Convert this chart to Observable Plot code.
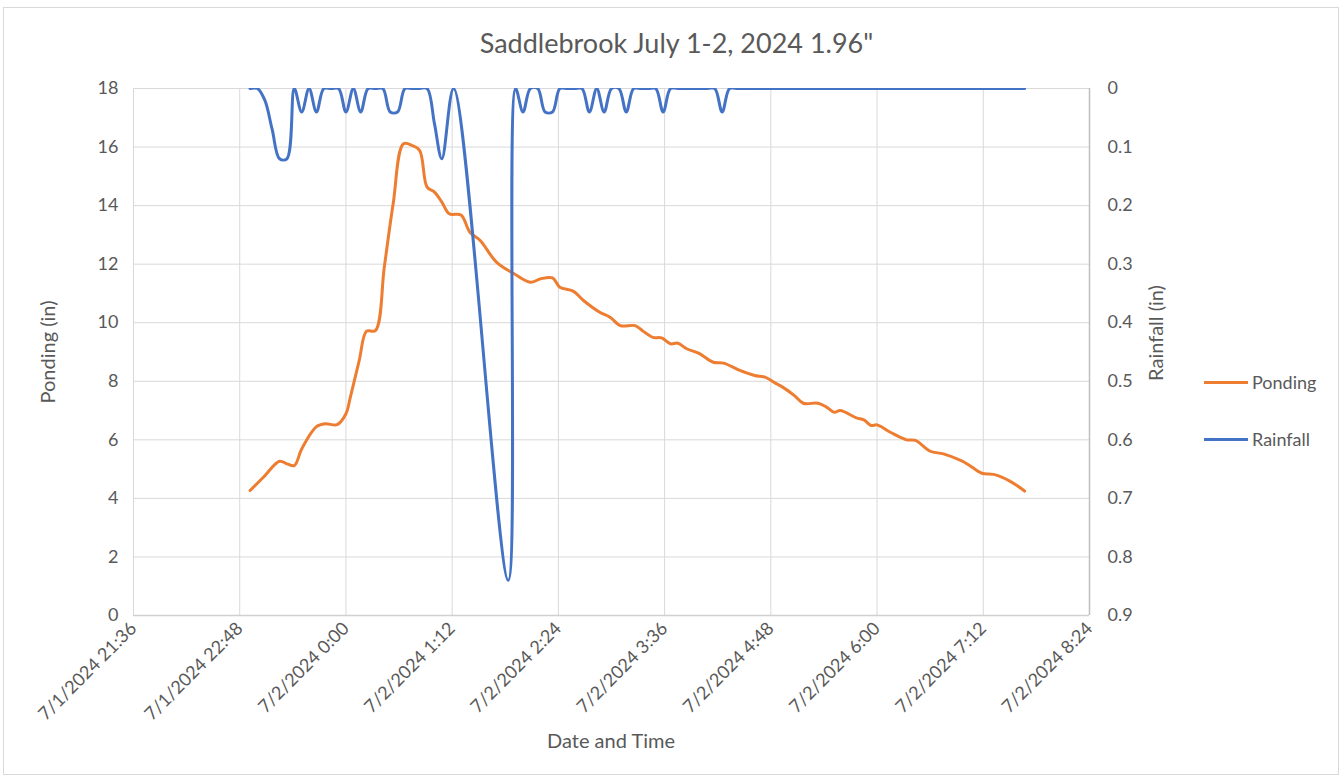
<!DOCTYPE html>
<html><head><meta charset="utf-8">
<script src="https://cdn.jsdelivr.net/npm/d3@7"></script>
<script src="https://cdn.jsdelivr.net/npm/@observablehq/plot@0.6"></script>
<style>
body{margin:0;background:#fff;font-family:Lato,"Open Sans",sans-serif;}
#wrap{position:relative;width:1343px;height:779px;overflow:hidden;background:#fff;}
#frame{position:absolute;left:3px;top:7px;width:1336px;height:768px;border:1px solid #d9d9d9;box-sizing:border-box;}
#chart{position:absolute;left:0;top:0;}
.txt{position:absolute;color:#595959;white-space:nowrap;}
#title{left:0;width:1353px;top:26px;text-align:center;font-size:27px;}
.leg{position:absolute;left:1204px;font-size:18px;color:#595959;display:flex;align-items:center;height:22px;}
.leg .sw{display:inline-block;width:44px;height:3px;margin-right:4px;}
</style></head><body>
<div id="wrap"><div id="frame"></div><div id="chart"></div></div>
<script>
// ---- data ----
const chartTitle = 'Saddlebrook July 1-2, 2024 1.96"';
const xAxisTitle = "Date and Time";
const yLeftTitle = "Ponding (in)";
const yRightTitle = "Rainfall (in)";
const seriesNames = ["Ponding", "Rainfall"];
const seriesColors = ["#ED7D31", "#4472C4"];

const xTickLabels = ["2024-07-01T21:36","2024-07-01T22:48","2024-07-02T00:00","2024-07-02T01:12","2024-07-02T02:24","2024-07-02T03:36","2024-07-02T04:48","2024-07-02T06:00","2024-07-02T07:12","2024-07-02T08:24"];
const pondingTicks = [0,2,4,6,8,10,12,14,16,18];
const rainfallTicks = [0,0.1,0.2,0.3,0.4,0.5,0.6,0.7,0.8,0.9];

const pondingTimes = ["2024-07-01T22:55","2024-07-01T23:04","2024-07-01T23:15","2024-07-01T23:20","2024-07-01T23:25","2024-07-01T23:30","2024-07-01T23:40","2024-07-01T23:46","2024-07-01T23:54","2024-07-02T00:00","2024-07-02T00:03","2024-07-02T00:09","2024-07-02T00:14","2024-07-02T00:20","2024-07-02T00:26","2024-07-02T00:32","2024-07-02T00:39","2024-07-02T00:45","2024-07-02T00:50","2024-07-02T00:55","2024-07-02T01:00","2024-07-02T01:05","2024-07-02T01:10","2024-07-02T01:18","2024-07-02T01:24","2024-07-02T01:31","2024-07-02T01:42","2024-07-02T01:54","2024-07-02T02:05","2024-07-02T02:12","2024-07-02T02:20","2024-07-02T02:25","2024-07-02T02:34","2024-07-02T02:41","2024-07-02T02:52","2024-07-02T02:59","2024-07-02T03:06","2024-07-02T03:16","2024-07-02T03:21","2024-07-02T03:28","2024-07-02T03:34","2024-07-02T03:40","2024-07-02T03:45","2024-07-02T03:51","2024-07-02T03:59","2024-07-02T04:09","2024-07-02T04:16","2024-07-02T04:27","2024-07-02T04:37","2024-07-02T04:44","2024-07-02T04:52","2024-07-02T04:56","2024-07-02T05:04","2024-07-02T05:10","2024-07-02T05:20","2024-07-02T05:26","2024-07-02T05:31","2024-07-02T05:35","2024-07-02T05:46","2024-07-02T05:51","2024-07-02T05:56","2024-07-02T06:00","2024-07-02T06:09","2024-07-02T06:20","2024-07-02T06:26","2024-07-02T06:36","2024-07-02T06:45","2024-07-02T06:57","2024-07-02T07:02","2024-07-02T07:11","2024-07-02T07:19","2024-07-02T07:30","2024-07-02T07:40"];
const pondingValues = [4.27,4.72,5.27,5.18,5.12,5.69,6.45,6.55,6.52,6.89,7.46,8.71,9.71,9.73,11.9,14.06,16.11,16.05,15.88,14.63,14.46,14.12,13.72,13.68,13.09,12.81,12.07,11.67,11.38,11.5,11.53,11.21,11.08,10.76,10.36,10.19,9.9,9.9,9.73,9.5,9.48,9.28,9.3,9.11,8.96,8.65,8.62,8.37,8.2,8.14,7.91,7.8,7.51,7.25,7.25,7.11,6.94,7.0,6.75,6.68,6.49,6.51,6.26,6.0,5.98,5.61,5.52,5.29,5.15,4.86,4.82,4.59,4.25];

const rainfallTimes = ["2024-07-01T22:55","2024-07-01T23:00","2024-07-01T23:05","2024-07-01T23:10","2024-07-01T23:15","2024-07-01T23:20","2024-07-01T23:25","2024-07-01T23:30","2024-07-01T23:35","2024-07-01T23:40","2024-07-01T23:45","2024-07-01T23:50","2024-07-01T23:55","2024-07-02T00:00","2024-07-02T00:05","2024-07-02T00:10","2024-07-02T00:15","2024-07-02T00:20","2024-07-02T00:25","2024-07-02T00:30","2024-07-02T00:35","2024-07-02T00:40","2024-07-02T00:45","2024-07-02T00:50","2024-07-02T00:55","2024-07-02T01:00","2024-07-02T01:05","2024-07-02T01:13","2024-07-02T01:50","2024-07-02T01:55","2024-07-02T02:00","2024-07-02T02:05","2024-07-02T02:10","2024-07-02T02:15","2024-07-02T02:20","2024-07-02T02:25","2024-07-02T02:30","2024-07-02T02:35","2024-07-02T02:40","2024-07-02T02:45","2024-07-02T02:50","2024-07-02T02:55","2024-07-02T03:00","2024-07-02T03:05","2024-07-02T03:10","2024-07-02T03:15","2024-07-02T03:20","2024-07-02T03:25","2024-07-02T03:30","2024-07-02T03:35","2024-07-02T03:40","2024-07-02T03:45","2024-07-02T04:05","2024-07-02T04:10","2024-07-02T04:15","2024-07-02T04:20","2024-07-02T04:25","2024-07-02T07:40"];
const rainfallValues = [0,0,0.02,0.07,0.12,0.12,0,0.04,0,0.04,0,0,0,0.04,0,0.04,0,0,0,0.04,0.04,0,0,0,0,0.06,0.12,0,0.84,0,0.04,0,0,0.04,0.04,0,0,0,0,0.04,0,0.04,0,0,0.04,0,0,0,0,0.04,0,0,0,0,0.04,0,0,0];

// ---- build ----
const parse = s => new Date(s + ":00Z");
const pondMax = 18, rainMax = 0.9;
const rainToPond = r => pondMax - r * (pondMax / rainMax);
const ponding = pondingTimes.map((t, i) => ({t: parse(t), v: pondingValues[i]}));
const rainfall = rainfallTimes.map((t, i) => ({t: parse(t), v: rainfallValues[i]}));
const xTicks = xTickLabels.map(parse);
const fmt = d3.utcFormat("%-m/%-d/%Y %-H:%M");
const rainLabel = new Map(rainfallTicks.map(r => [rainToPond(r), String(r)]));

const W = 1343, H = 779;
const chart = Plot.plot({
  width: W, height: H,
  marginTop: 88, marginBottom: 164, marginLeft: 133, marginRight: 254,
  style: {fontFamily: "Lato, 'Open Sans', sans-serif", fontSize: "18px", color: "#595959", background: "transparent", overflow: "visible"},
  x: {type: "utc", domain: [xTicks[0], xTicks[xTicks.length - 1]]},
  y: {domain: [0, pondMax]},
  marks: [
    Plot.gridY(pondingTicks, {stroke: "#d9d9d9", strokeOpacity: 1, strokeWidth: 1}),
    Plot.gridX(xTicks, {stroke: "#d9d9d9", strokeOpacity: 1, strokeWidth: 1}),
    Plot.ruleY([0], {stroke: "#d0d0d0", strokeWidth: 1.5}),
    Plot.ruleX([xTicks[xTicks.length - 1]], {stroke: "#bfbfbf", strokeWidth: 1.5}),
    Plot.axisY(pondingTicks, {anchor: "left", tickSize: 0, tickPadding: 15, label: null, fill: "#595959", fontSize: 18}),
    Plot.axisY(rainfallTicks.map(rainToPond), {anchor: "right", tickSize: 0, tickPadding: 18, label: null, tickFormat: v => rainLabel.get(v) ?? "", fill: "#595959", fontSize: 18}),
    Plot.axisX(xTicks, {tickSize: 0, tickPadding: 10, tickRotate: -45, tickFormat: fmt, label: null, fill: "#595959", fontSize: 18}),
    Plot.line(ponding, {x: "t", y: "v", stroke: seriesColors[0], strokeWidth: 3, curve: "catmull-rom"}),
    Plot.line(rainfall, {x: "t", y: d => rainToPond(d.v), stroke: seriesColors[1], strokeWidth: 3, curve: "catmull-rom", clip: true})
  ]
});
const wrap = document.getElementById("wrap");
document.getElementById("chart").appendChild(chart);

function addText(text, css, rotate) {
  const el = document.createElement("div");
  el.className = "txt";
  el.textContent = text;
  Object.assign(el.style, css);
  if (rotate) el.style.transform = "translate(-50%,-50%) rotate(-90deg)";
  wrap.appendChild(el);
  return el;
}
const t = addText(chartTitle, {}, false); t.id = "title";
addText(yLeftTitle, {left: "47px", top: "352px", fontSize: "20px"}, true);
addText(yRightTitle, {left: "1155px", top: "333px", fontSize: "20px"}, true);
addText(xAxisTitle, {left: "611px", top: "740px", fontSize: "20px", transform: "translate(-50%,-50%)"}, false);
const legendY = [382, 439];
seriesNames.forEach((name, i) => {
  const el = document.createElement("div");
  el.className = "leg";
  el.style.top = (legendY[i] - 11) + "px";
  el.innerHTML = `<span class="sw" style="background:${seriesColors[i]}"></span>`;
  el.appendChild(document.createTextNode(name));
  wrap.appendChild(el);
});
</script>
</body></html>
